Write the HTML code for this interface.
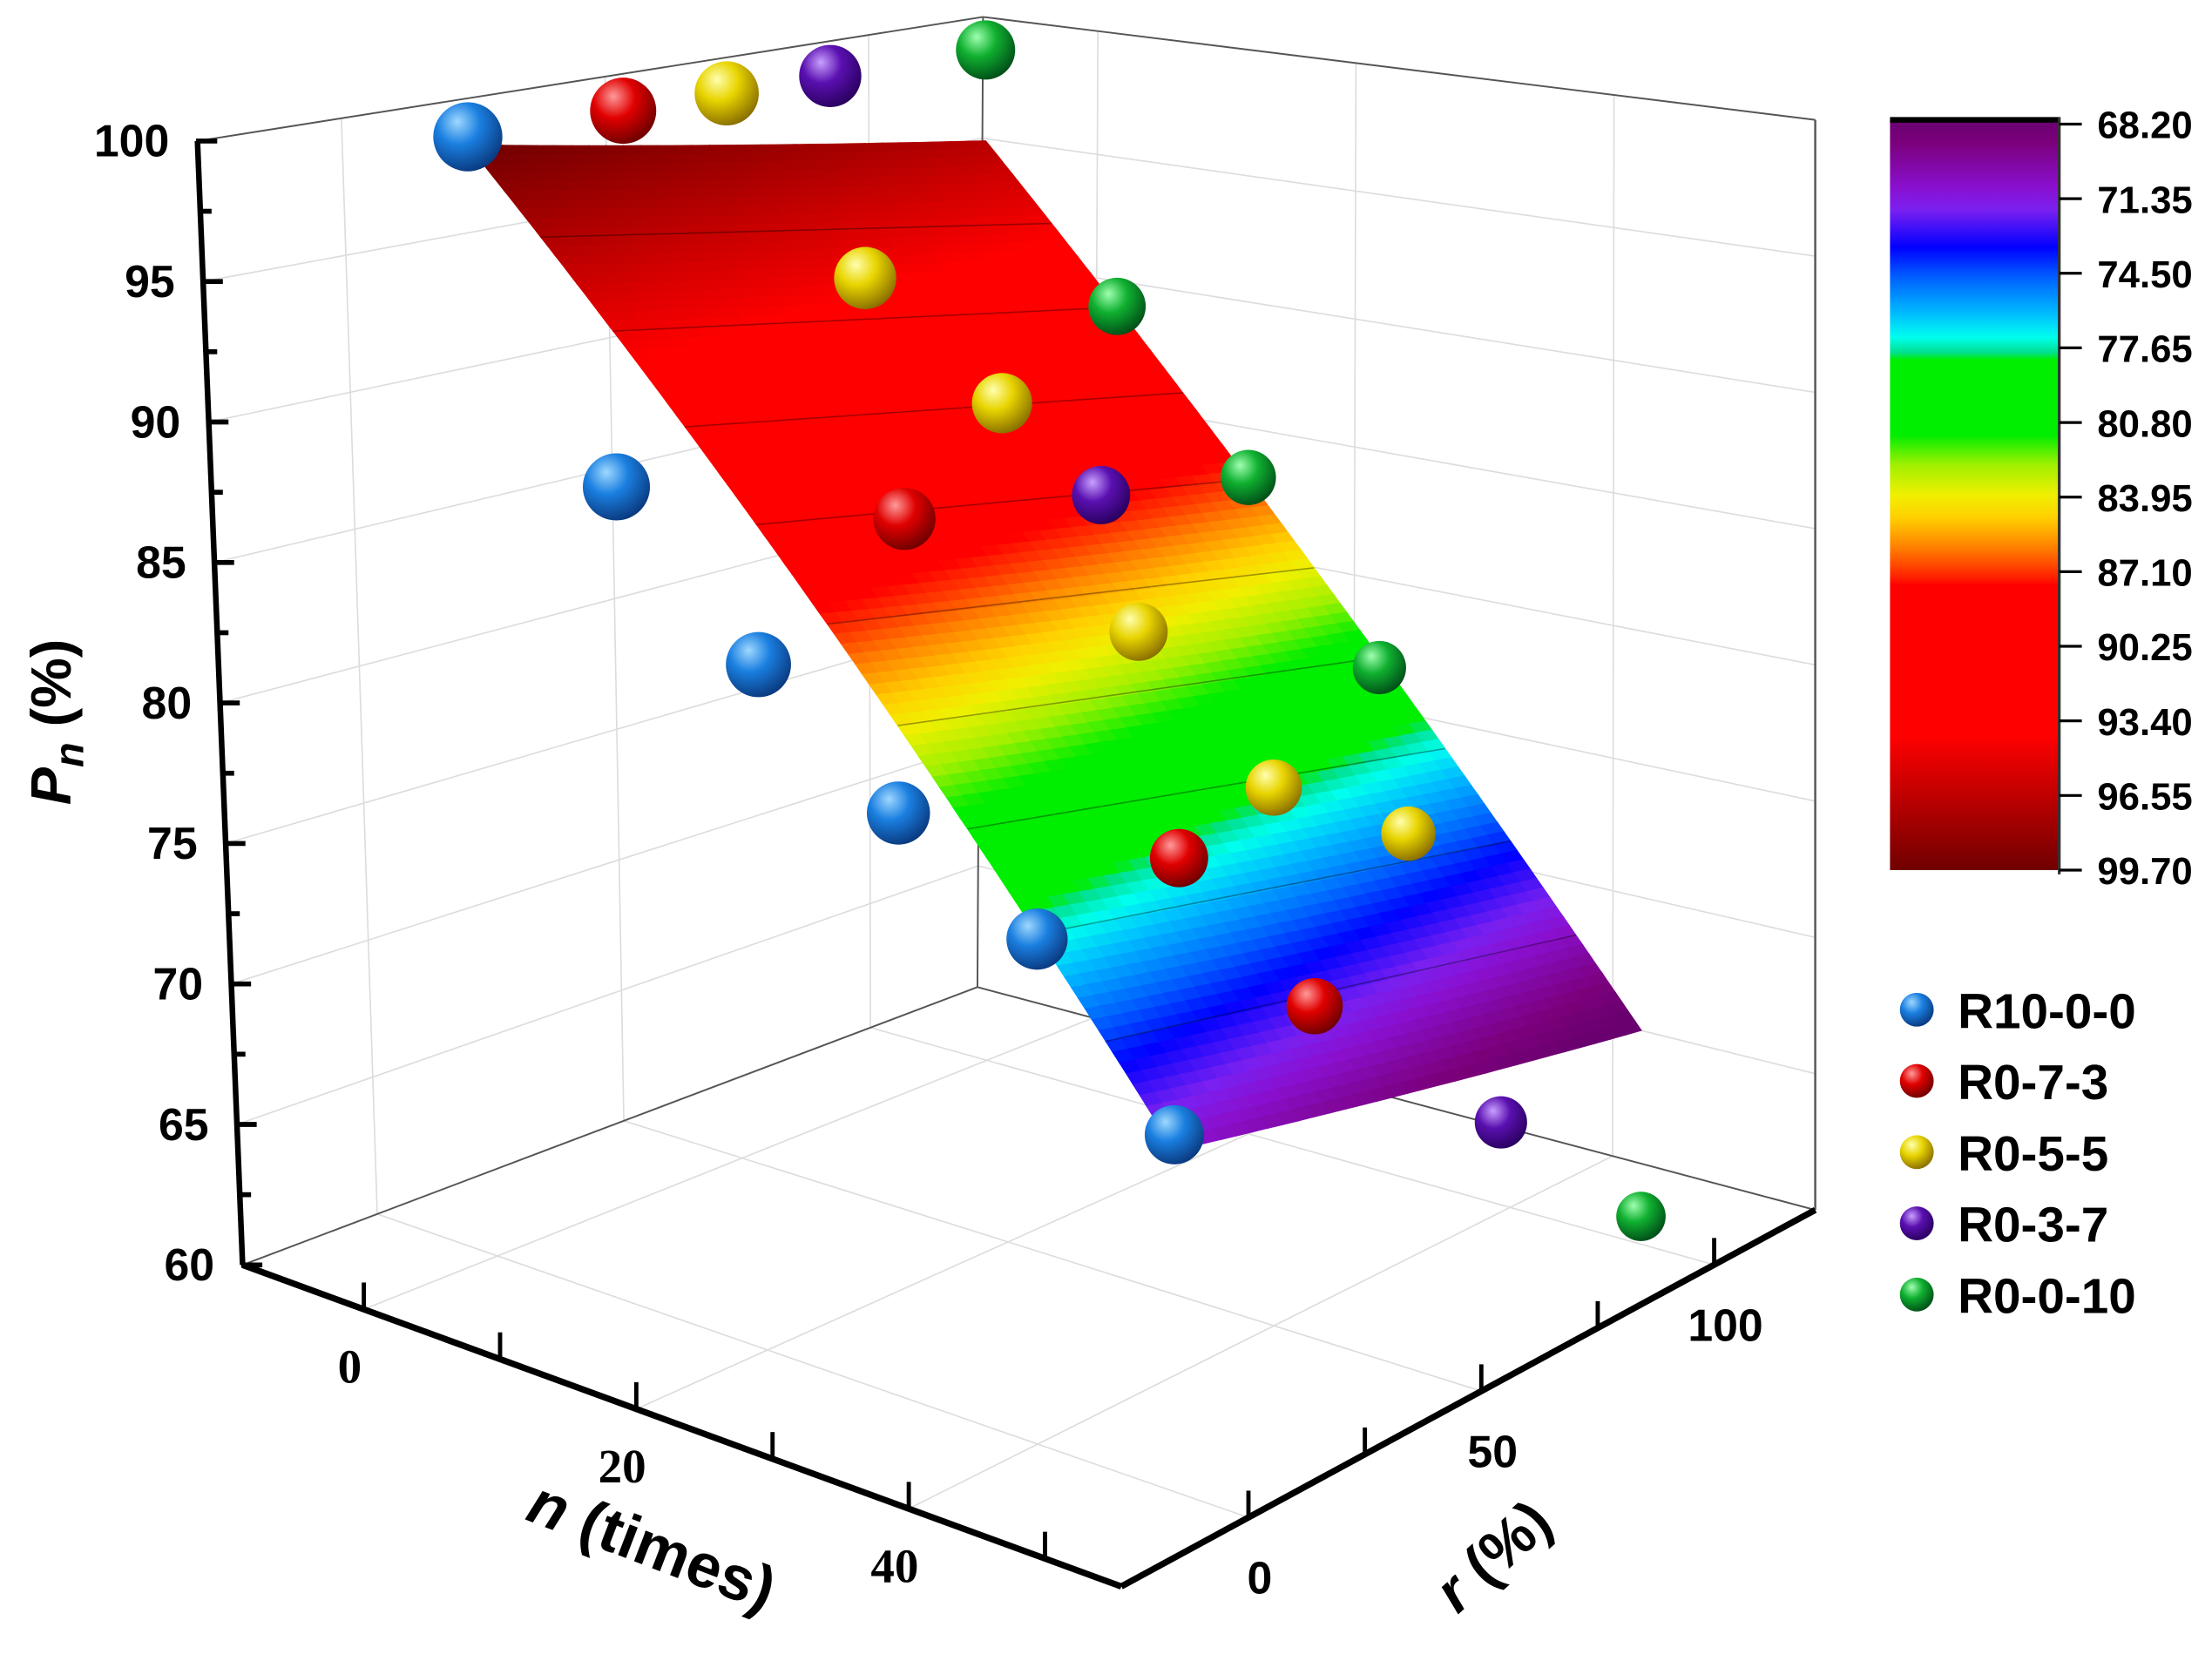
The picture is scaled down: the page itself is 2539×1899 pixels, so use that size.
<!DOCTYPE html>
<html><head><meta charset="utf-8">
<style>
html,body{margin:0;padding:0;background:#fff;}
svg{display:block;}
text{font-family:"Liberation Sans",Arial,sans-serif;font-weight:bold;fill:#000;}
</style></head>
<body>
<svg id="chart" xmlns="http://www.w3.org/2000/svg" width="2539" height="1899" viewBox="0 0 1568.3 1172.9" preserveAspectRatio="none">
<defs id="defs"></defs>
<g id="walls"></g>
<g id="surface"></g>
<g id="points"></g>
<g id="axes"></g>
<g id="colorbar"></g>
<g id="legend"></g>
<text transform="translate(50,512) rotate(-90)" text-anchor="middle" font-size="40"><tspan font-style="italic">P</tspan><tspan font-style="italic" font-size="29" dy="9">n</tspan><tspan dy="-9"> (%)</tspan></text>
<text transform="translate(457,1110) rotate(21)" text-anchor="middle" font-size="44"><tspan font-style="italic">n</tspan> (times)</text>
<text transform="translate(1068,1114) rotate(-42)" text-anchor="middle" font-size="42"><tspan font-style="italic">r</tspan> (%)</text>
</svg>
<script>
// ---- data ----
const seriesNames = ["R10-0-0","R0-7-3","R0-5-5","R0-3-7","R0-0-10"];
const seriesR = [0,30,50,70,100];
const blueN = [0,10,20,30,40,50];
const blueZ = [100,88.5,83.4,79.5,76.5,71.4];
const redN = [0,20,40,50];
const redZ = [100,87.0,77.4,73.6];
const yellowN = [0,10,20,30,40,50];
const yellowZ = [100,93.9,90.2,83.0,78.6,78.1];
const purpleN = [0,20,50];
const purpleZ = [100,85.9,66.8];
const greenN = [0,10,20,30,50];
const greenZ = [100,90.7,85.0,78.8,61.0];
const surfN = [0,50];
const surfR = [0,100];
const surfZ = [[99.7,96.4],[70.9,67.7]];
const zTicks = [60,65,70,75,80,85,90,95,100];
const nTicks = [0,20,40];
const rTicks = [0,50,100];
const cbTicks = ["68.20","71.35","74.50","77.65","80.80","83.95","87.10","90.25","93.40","96.55","99.70"];
const cbMin = 68.2, cbMax = 99.7;

// ---- projection ----
const nMin=-8.9,nMax=55.6,rMin=-27.3,rMax=121.7,zMin=60,zMax=100;
const F=[[172,897],[795,1125],[693,700],[1287,858]];
const C=[[140,100],[803,200],[697,12],[1287,85]];
function bil(Q,u,v,k){return (1-u)*(1-v)*Q[0][k]+u*(1-v)*Q[1][k]+(1-u)*v*Q[2][k]+u*v*Q[3][k];}
function P(n,r,z){const u=(n-nMin)/(nMax-nMin),v=(r-rMin)/(rMax-rMin),w=(z-zMin)/(zMax-zMin);
 return [bil(F,u,v,0)*(1-w)+bil(C,u,v,0)*w, bil(F,u,v,1)*(1-w)+bil(C,u,v,1)*w];}
const NS="http://www.w3.org/2000/svg";
function mk(tag,attrs,parent){const e=document.createElementNS(NS,tag);for(const k in attrs)e.setAttribute(k,attrs[k]);parent.appendChild(e);return e;}
function line(p,q,st,sw,par){return mk('line',{x1:p[0],y1:p[1],x2:q[0],y2:q[1],stroke:st,'stroke-width':sw},par);}

const stops=[[0,[106,0,112]],[0.03,[122,0,122]],[0.09,[138,16,208]],[0.12,[122,32,240]],[0.17,[0,0,255]],[0.21,[0,96,255]],[0.26,[0,192,255]],[0.29,[0,255,238]],[0.31,[0,224,144]],[0.32,[0,238,0]],[0.42,[0,238,0]],[0.46,[160,240,0]],[0.5,[240,240,0]],[0.53,[255,208,0]],[0.57,[255,128,0]],[0.61,[255,32,0]],[0.62,[255,0,0]],[0.82,[255,0,0]],[0.9,[192,0,0]],[1,[112,0,0]]];
function cmap(val){let t=(val-cbMin)/(cbMax-cbMin);t=Math.max(0,Math.min(1,t));
 for(let i=1;i<stops.length;i++){if(t<=stops[i][0]){const a=stops[i-1],b=stops[i];const f=(t-a[0])/(b[0]-a[0]||1);
 const c=a[1].map((x,j)=>Math.round(x+(b[1][j]-x)*f));return `rgb(${c[0]},${c[1]},${c[2]})`;}}return 'rgb(112,0,0)';}

// ---- walls & grid ----
const walls=document.getElementById('walls');
const g1='#dcdcdc';
zTicks.forEach(z=>{ if(z===60)return;
 line(P(nMin,rMin,z),P(nMin,rMax,z),g1,1,walls);
 line(P(nMin,rMax,z),P(nMax,rMax,z),g1,1,walls);});
rTicks.forEach(r=>{line(P(nMin,r,60),P(nMin,r,100),g1,1,walls);line(P(nMin,r,60),P(nMax,r,60),g1,1,walls);});
nTicks.forEach(n=>{line(P(n,rMax,60),P(n,rMax,100),g1,1,walls);line(P(n,rMin,60),P(n,rMax,60),g1,1,walls);});
const ec='#555';
line(P(nMin,rMin,100),P(nMin,rMax,100),ec,1.2,walls);
line(P(nMin,rMax,100),P(nMax,rMax,100),ec,1.2,walls);
line(P(nMin,rMax,60),P(nMin,rMax,100),ec,1.2,walls);
line(P(nMax,rMax,60),P(nMax,rMax,100),ec,1.5,walls);
line(P(nMin,rMin,60),P(nMin,rMax,60),ec,1.2,walls);
line(P(nMin,rMax,60),P(nMax,rMax,60),ec,1.2,walls);

// ---- surface ----
const surf=document.getElementById('surface');
function sz(n,r){const a=(n-surfN[0])/(surfN[1]-surfN[0]),b=(r-surfR[0])/(surfR[1]-surfR[0]);
 return (1-a)*(1-b)*surfZ[0][0]+a*(1-b)*surfZ[1][0]+(1-a)*b*surfZ[0][1]+a*b*surfZ[1][1];}
function scol(z){const d=Math.max(0,1-Math.abs((z-85)/15));return cmap(z+2.2*d);}
const NI=100,RI=30;
for(let i=0;i<NI;i++){for(let j=0;j<RI;j++){
 const n0=surfN[0]+(surfN[1]-surfN[0])*i/NI,n1=surfN[0]+(surfN[1]-surfN[0])*(i+1)/NI;
 const r0=surfR[0]+(surfR[1]-surfR[0])*j/RI,r1=surfR[0]+(surfR[1]-surfR[0])*(j+1)/RI;
 const pts=[P(n0,r0,sz(n0,r0)),P(n1,r0,sz(n1,r0)),P(n1,r1,sz(n1,r1)),P(n0,r1,sz(n0,r1))];
 const col=scol(sz((n0+n1)/2,(r0+r1)/2));
 const pg=mk('polygon',{points:pts.map(p=>p[0].toFixed(1)+','+p[1].toFixed(1)).join(' '),fill:col,stroke:col,'stroke-width':0.8},surf);
 
 
}}
for(let n=5;n<50;n+=5){const ln=line(P(n,surfR[0],sz(n,surfR[0])),P(n,surfR[1],sz(n,surfR[1])),'rgba(0,0,0,0.35)',1,surf);
 
 }

// ---- spheres ----
const defs=document.getElementById('defs');
const baseCols=[["#9fd8ff","#1a7fe0","#0a3a80"],["#ff9a9a","#e00000","#700000"],["#ffffb0","#e8d400","#8a7000"],["#c9a0ff","#5a10b0","#2a0060"],["#a0ffb0","#10b030","#005018"]];
baseCols.forEach((c,i)=>{const g=mk('radialGradient',{id:'sg'+i,cx:'38%',cy:'32%',r:'70%',fx:'35%',fy:'28%'},defs);
 mk('stop',{offset:'0%','stop-color':c[0]},g);mk('stop',{offset:'45%','stop-color':c[1]},g);mk('stop',{offset:'100%','stop-color':c[2]},g);});
const allN=[blueN,redN,yellowN,purpleN,greenN],allZ=[blueZ,redZ,yellowZ,purpleZ,greenZ];
const pts=[];
allN.forEach((ns,si)=>ns.forEach((n,k)=>pts.push({si,n,r:seriesR[si],z:allZ[si][k]})));
pts.sort((a,b)=>(a.n-a.r*0.5)-(b.n-b.r*0.5));
const pg=document.getElementById('points');
pts.forEach(p=>{const q=P(p.n,p.r,p.z);const rad=24.5-0.07*p.n-0.035*p.r;
 const c=mk('circle',{cx:q[0],cy:q[1],r:rad,fill:`url(#sg${p.si})`},pg);
 
 });

// ---- axes ----
const ax=document.getElementById('axes');
line(P(nMin,rMin,60),P(nMin,rMin,100),'#000',4,ax);
line(P(nMin,rMin,60),P(nMax,rMin,60),'#000',4.5,ax);
line(P(nMax,rMin,60),P(nMax,rMax,60),'#000',4.5,ax);
for(let z=60;z<=100;z+=2.5){const p=P(nMin,rMin,z);const maj=(z%5===0);line([p[0]-1,p[1]],[p[0]+(maj?14:8),p[1]],'#000',3.5,ax);}
zTicks.forEach(z=>{const p=P(nMin,rMin,z);const t=mk('text',{x:p[0]-20,y:p[1]+11,'text-anchor':'end','font-size':32},ax);t.textContent=z;
 
 });
for(let n=0;n<=50;n+=10){const p=P(n,rMin,60);line(p,[p[0],p[1]-19],'#000',3,ax);}
nTicks.forEach(n=>{const p=P(n,rMin,60);const t=mk('text',{x:p[0]-10,y:p[1]+52,'text-anchor':'middle','font-size':34,style:'font-family:"Liberation Serif",serif'},ax);t.textContent=n;
 
 });
for(let r=0;r<=100;r+=25){const p=P(nMax,r,60);line(p,[p[0],p[1]-19],'#000',3,ax);}
rTicks.forEach(r=>{const p=P(nMax,r,60);const t=mk('text',{x:p[0]+8,y:p[1]+54,'text-anchor':'middle','font-size':32},ax);t.textContent=r;
 
 });

// ---- colorbar ----
const cb=document.getElementById('colorbar');
const cbX=1340,cbW=120,cbTop=85,cbBot=617;
const lg=mk('linearGradient',{id:'cbg',x1:0,y1:0,x2:0,y2:1},defs);
stops.forEach(s=>mk('stop',{offset:s[0],'stop-color':`rgb(${s[1].join(',')})`},lg));
const rect=mk('rect',{x:cbX,y:cbTop,width:cbW,height:cbBot-cbTop,fill:'url(#cbg)'},cb);


mk('rect',{x:cbX,y:cbTop-2,width:cbW,height:4,fill:'#000'},cb);
line([cbX+cbW,cbTop-2],[cbX+cbW,cbBot+3],'#333',2,cb);
cbTicks.forEach((lab,i)=>{const y=cbTop+3+(cbBot-cbTop-3)*i/(cbTicks.length-1);line([cbX+cbW,y],[cbX+cbW+16,y],'#000',2,cb);
 const t=mk('text',{x:1487,y:y+10,'font-size':27},cb);t.textContent=lab;
 
 });

// ---- legend ----
const lgG=document.getElementById('legend');
seriesNames.forEach((nm,i)=>{const y=716+i*50.5;
 const c=mk('circle',{cx:1359,cy:y,r:12,fill:`url(#sg${i})`},lgG);
 
 
 const t=mk('text',{x:1388,y:y+13,'font-size':35},lgG);t.textContent=nm;
 
 });
</script>
</body></html>
